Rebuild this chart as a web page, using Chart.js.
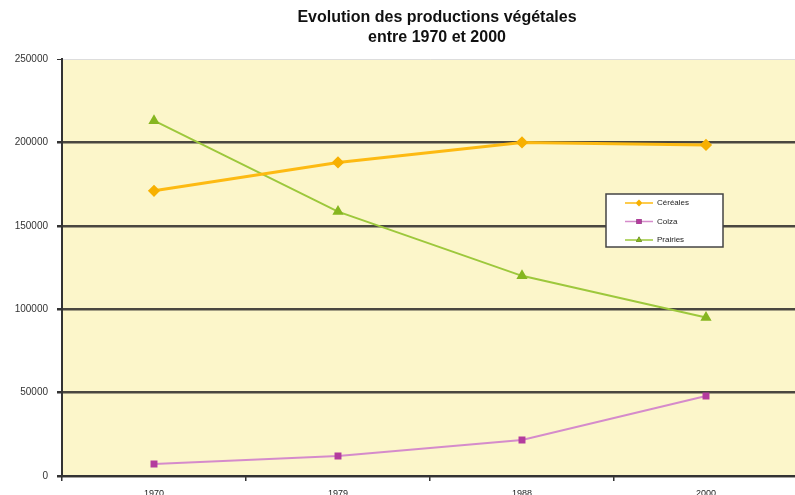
<!DOCTYPE html>
<html>
<head>
<meta charset="utf-8">
<script src="https://cdn.jsdelivr.net/npm/chart.js@4/dist/chart.umd.min.js"></script>
<style>
	html, body { margin: 0; padding: 0; background: #fff; overflow: hidden; }
	#wrap { position: relative; width: 795px; height: 495px; overflow: hidden; }
</style>
</head>
<body>
<div id="wrap"><canvas id="prodChart" width="805" height="500"></canvas></div>
<script>
// données
const annees = ['1970', '1979', '1988', '2000'];
const cereales = [171000, 188000, 200000, 198500];
const colza = [7200, 12000, 21600, 48000];
const prairies = [213000, 158500, 120000, 95000];
const yTicks = [0, 50000, 100000, 150000, 200000, 250000];

// fond jaune de la zone de tracé
const plotBg = {
	id: 'plotBg',
	beforeDraw(chart) {
		const { ctx, chartArea: a } = chart;
		ctx.save();
		ctx.fillStyle = '#FCF6CA';
		ctx.fillRect(a.left, a.top, a.right - a.left + 10, a.bottom - a.top);
		ctx.restore();
	},
	afterLayout(chart) {
		// titre un peu décalé vers la droite comme dans l'original
		const t = chart.titleBlock;
		if (t) { t.left += 7; t.right += 7; }
	}
};

// légende encadrée posée dans le graphique
const boxLegend = {
	id: 'boxLegend',
	afterDatasetsDraw(chart) {
		const ctx = chart.ctx;
		const x = 606, y = 194, w = 117, h = 53;
		ctx.save();
		ctx.fillStyle = '#fff';
		ctx.fillRect(x, y, w, h);
		ctx.strokeStyle = '#444';
		ctx.lineWidth = 1.5;
		ctx.strokeRect(x, y, w, h);
		ctx.font = '8px "Liberation Sans", Arial, sans-serif';
		ctx.textBaseline = 'middle';
		chart.data.datasets.forEach((ds, i) => {
			const ly = y + 9 + i * 18.5;
			ctx.strokeStyle = ds.borderColor;
			ctx.lineWidth = 1.5;
			ctx.beginPath();
			ctx.moveTo(x + 19, ly);
			ctx.lineTo(x + 47, ly);
			ctx.stroke();
			Chart.helpers.drawPoint(ctx, {
				pointStyle: ds.pointStyle,
				radius: 3.5,
				rotation: 0,
				borderWidth: 0
			}, x + 33, ly);
			ctx.fillStyle = ds.pointBackgroundColor;
			ctx.fill();
			ctx.fillStyle = '#222';
			ctx.fillText(ds.label, x + 51, ly);
		});
		ctx.restore();
	}
};

new Chart(document.getElementById('prodChart'), {
	type: 'line',
	data: {
		labels: annees,
		datasets: [
			{
				label: 'Céréales',
				data: cereales,
				borderColor: '#FDBA12',
				backgroundColor: '#F7B000',
				pointBackgroundColor: '#F7B000',
				pointBorderColor: '#F7B000',
				pointStyle: 'rectRot',
				pointRadius: 4,
				borderWidth: 3,
				tension: 0
			},
			{
				label: 'Colza',
				data: colza,
				borderColor: '#D58BCB',
				backgroundColor: '#B43C9E',
				pointBackgroundColor: '#B43C9E',
				pointBorderColor: '#B43C9E',
				pointStyle: 'rect',
				pointRadius: 3.5,
				borderWidth: 2,
				tension: 0
			},
			{
				label: 'Prairies',
				data: prairies,
				borderColor: '#9DC83C',
				backgroundColor: '#86B620',
				pointBackgroundColor: '#86B620',
				pointBorderColor: '#86B620',
				pointStyle: 'triangle',
				pointRadius: 4.5,
				borderWidth: 2,
				tension: 0
			}
		]
	},
	options: {
		responsive: false,
		animation: false,
		layout: { padding: { top: 8, right: 0, left: 0, bottom: 0 } },
		scales: {
			x: {
				offset: true,
				grid: {
					offset: true,
					drawOnChartArea: false,
					drawTicks: true,
					tickLength: 5,
					color: '#333',
					lineWidth: 1.5
				},
				border: { color: '#333', width: 2 },
				ticks: {
					padding: 7,
					color: '#222',
					font: { size: 9, family: '"Liberation Sans", Arial, sans-serif' }
				},
				afterFit(scale) { scale.height = 24; }
			},
			y: {
				min: 0,
				max: 250000,
				afterBuildTicks(scale) {
					scale.ticks = yTicks.map(v => ({ value: v }));
				},
				grid: {
					color: ctx => ctx.tick && ctx.tick.value === 250000 ? '#ddd' : '#4a4740',
					lineWidth: ctx => ctx.tick && ctx.tick.value === 250000 ? 1 : 2.5,
					tickLength: 5,
					tickColor: '#333'
				},
				border: { color: '#333', width: 2 },
				ticks: {
					padding: 9,
					color: '#333',
					font: { size: 10, family: '"Liberation Sans", Arial, sans-serif' },
					callback: v => String(v)
				},
				afterFit(scale) { scale.width = 62; }
			}
		},
		plugins: {
			legend: { display: false },
			tooltip: { enabled: false },
			title: {
				display: true,
				fullSize: false,
				text: ['Evolution des productions végétales', 'entre 1970 et 2000'],
				color: '#111',
				font: { size: 16, weight: 'bold', family: '"Liberation Sans", Arial, sans-serif', lineHeight: 1.25 },
				padding: { top: 0, bottom: 11 }
			}
		}
	},
	plugins: [plotBg, boxLegend]
});
</script>
</body>
</html>
